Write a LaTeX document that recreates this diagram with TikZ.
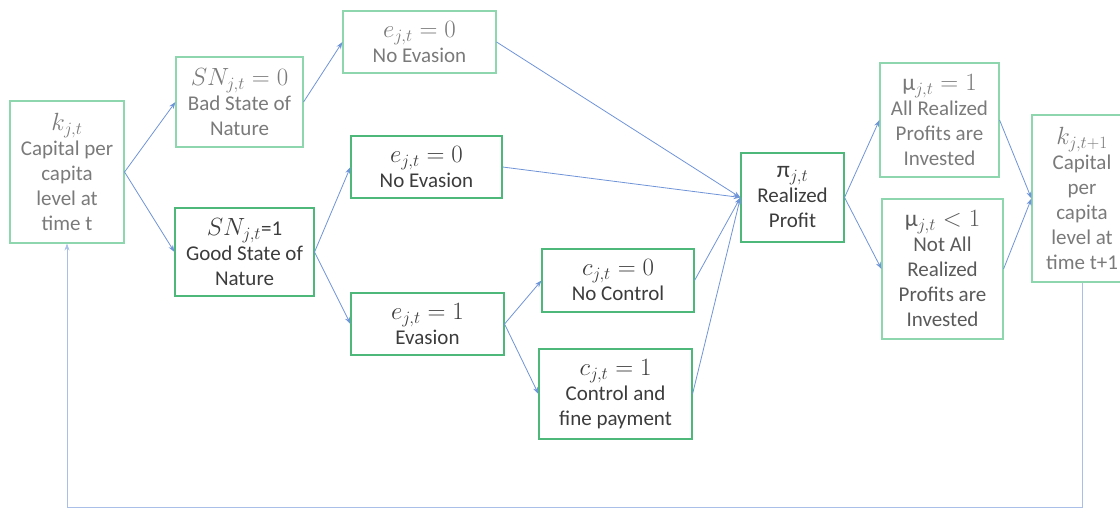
\documentclass[tikz,border=0pt]{standalone}
\usepackage{fontspec}
\setmainfont{Carlito}
\usetikzlibrary{arrows.meta}
\definecolor{boxgreen}{HTML}{4DB87A}
\definecolor{boxlight}{HTML}{8ED6AE}
\definecolor{arrowblue}{HTML}{7094D8}
\definecolor{txtgray}{HTML}{7A7A7A}
\definecolor{txtdark}{HTML}{3C3C3C}
\definecolor{txtmid}{HTML}{5A5A5A}
\newcommand{\mymath}[1]{{\fontsize{23.5}{25}\selectfont #1}}
\tikzset{
  box/.style={draw=boxgreen, line width=1.1pt, inner sep=0pt, align=center,
    font=\fontsize{21}{25}\selectfont, text=txtdark},
  lightbox/.style={box, draw=boxlight, text=txtgray},
  arr/.style={draw=arrowblue, line width=0.8pt, -{Stealth[length=7pt,width=5pt]}},
  loopline/.style={draw=arrowblue!60, line width=0.8pt}
}
\begin{document}
\begin{tikzpicture}[x=1pt,y=-1pt]
\useasboundingbox (0,0) rectangle (1120,508);
\begin{scope}
\clip (0,0) rectangle (1120,508);
\node[lightbox, minimum width=114pt, minimum height=142pt] (kt) at (67,172)
  {\mymath{$k_{j,t}$}\\Capital per\\capita\\level at\\time t};
\node[lightbox, minimum width=127pt, minimum height=90pt] (sn0) at (239.5,102)
  {\mymath{$SN_{j,t}=0$}\\Bad State of\\Nature};
\node[box, minimum width=139pt, minimum height=88pt] (sn1) at (244.5,252)
  {\mymath{$SN_{j,t}$}=1\\Good State of\\Nature};
\node[lightbox, minimum width=153pt, minimum height=62pt] (e0a) at (419.5,42)
  {\mymath{$e_{j,t}=0$}\\No Evasion};
\node[box, minimum width=151pt, minimum height=62pt] (e0b) at (426.5,167)
  {\mymath{$e_{j,t}=0$}\\No Evasion};
\node[box, minimum width=153pt, minimum height=62pt] (e1) at (427.5,324)
  {\mymath{$e_{j,t}=1$}\\Evasion};
\node[box, minimum width=152pt, minimum height=63pt] (c0) at (618,280.5)
  {\mymath{$c_{j,t}=0$}\\No Control};
\node[box, minimum width=153pt, minimum height=90pt] (c1) at (615.5,394)
  {\mymath{$c_{j,t}=1$}\\Control and\\fine payment};
\node[box, minimum width=103pt, minimum height=89pt] (pi) at (792.5,197.5)
  {\mymath{\mbox{π}$_{j,t}$}\\Realized\\Profit};
\node[lightbox, minimum width=119pt, minimum height=114pt] (mu1) at (939.5,120)
  {\mymath{\mbox{μ}$_{j,t}=1$}\\All Realized\\Profits are\\Invested};
\node[lightbox, text=txtmid, minimum width=121pt, minimum height=140pt] (mu2) at (942.5,269)
  {\mymath{\mbox{μ}$_{j,t}<1$}\\Not All\\Realized\\Profits are\\Invested};
\node[lightbox, minimum width=100pt, minimum height=167pt] (kt1) at (1082,198.5)
  {\mymath{$k_{j,t+1}$}\\Capital\\per\\capita\\level at\\time t+1};

\draw[arr] (kt.east) -- (sn0.west);
\draw[arr] (kt.east) -- (sn1.west);
\draw[arr] (sn0.east) -- (e0a.west);
\draw[arr] (sn1.east) -- (e0b.west);
\draw[arr] (sn1.east) -- (e1.west);
\draw[arr] (e1.east) -- (c0.west);
\draw[arr] (e1.east) -- (c1.west);
\draw[arr] (e0a.east) -- (pi.west);
\draw[arr] (e0b.east) -- (pi.west);
\draw[arr] (c0.east) -- (pi.west);
\draw[arr] (c1.east) -- (pi.west);
\draw[arr] (pi.east) -- (mu1.west);
\draw[arr] (pi.east) -- (mu2.west);
\draw[arr] (mu1.east) -- (kt1.west);
\draw[arr] (mu2.east) -- (kt1.west);
\coordinate (br) at (kt1.south |- 0,507.6);
\coordinate (bl) at (kt.south |- 0,507.6);
\draw[loopline] (kt1.south) -- (br) -- (bl);
\draw[arr, draw=arrowblue!60] (bl) -- (kt.south);
\end{scope}
\end{tikzpicture}
\end{document}
